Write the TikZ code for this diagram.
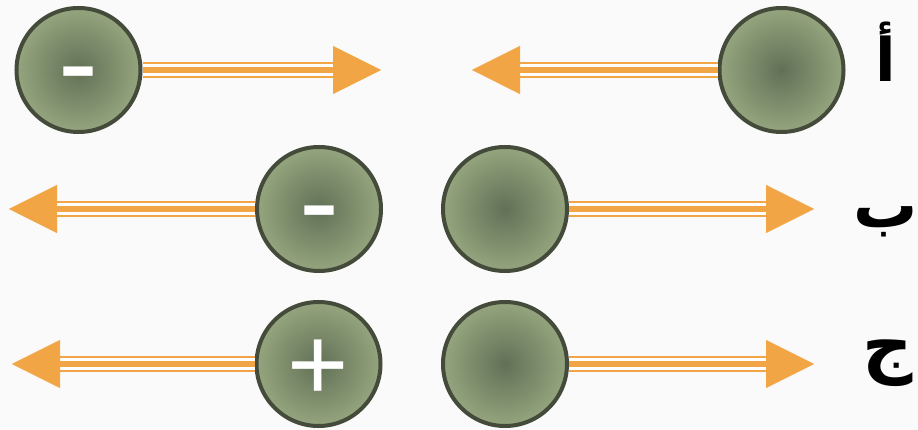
\documentclass[tikz,border=0pt]{standalone}
\usepackage{fontspec}
\setmainfont{Liberation Sans}
\newfontfamily\arabicfont[Script=Arabic]{DejaVu Sans}
\TeXXeTstate=1
\usetikzlibrary{arrows.meta}
\usepackage{xcolor}
\definecolor{bgc}{RGB}{250,250,250}
\definecolor{ballin}{RGB}{98,112,86}
\definecolor{ballout}{RGB}{148,165,126}
\definecolor{ballrim}{RGB}{68,75,58}
\definecolor{rodc}{RGB}{242,165,69}

\tikzset{
  ball/.style={circle, draw=ballrim, line width=4pt, minimum size=124pt, inner sep=0pt,
    inner color=ballin, outer color=ballout, text=white},
  minus/.style={font=\fontsize{120}{120}\selectfont, text height=67pt, text depth=0pt},
  plus/.style={font=\fontsize{105}{105}\selectfont, text height=73.6pt, text depth=0pt},
  rod/.style={draw=rodc, line width=5.3pt,
    preaction={draw=rodc, line width=2.3pt, double=white, double distance=12pt}},
  head/.style={draw=rodc, line width=0.1pt, -{Triangle[length=48pt,width=48pt]}},
  letter/.style={font={\arabicfont\bfseries\fontsize{60}{72}\selectfont}}
}

\begin{document}
\begin{tikzpicture}[x=1pt,y=-1pt]
\fill[bgc] (0,0) rectangle (918,430);
\useasboundingbox (0,0) rectangle (918,430);

% row a
\node[ball, minus] (a1) at (78.5,70) {-};
\node[ball] (a2) at (781.5,70) {};
\coordinate (a1h) at (333,70);
\coordinate (a1t) at (381,70);
\coordinate (a2h) at (520,70);
\coordinate (a2t) at (472,70);
\draw[rod] (a1.east) -- (a1h);
\draw[head] (a1h) -- (a1t);
\draw[rod] (a2.west) -- (a2h);
\draw[head] (a2h) -- (a2t);

% row b
\node[ball, minus] (b1) at (319,209) {-};
\node[ball] (b2) at (505,209) {};
\coordinate (b1h) at (57,209);
\coordinate (b1t) at (9,209);
\coordinate (b2h) at (767,209);
\coordinate (b2t) at (814,209);
\draw[rod] (b1.west) -- (b1h);
\draw[head] (b1h) -- (b1t);
\draw[rod] (b2.east) -- (b2h);
\draw[head] (b2h) -- (b2t);

% row c
\node[ball, plus] (c1) at (318.5,364) {+};
\node[ball] (c2) at (505,364) {};
\coordinate (c1h) at (59,364);
\coordinate (c1t) at (12,364);
\coordinate (c2h) at (767,364);
\coordinate (c2t) at (814,364);
\draw[rod] (c1.west) -- (c1h);
\draw[head] (c1h) -- (c1t);
\draw[rod] (c2.east) -- (c2h);
\draw[head] (c2h) -- (c2t);

% letters
\node[letter] (la) at (886,52) {\beginR أ\endR};
\node[letter, font={\arabicfont\bfseries\fontsize{64}{76}\selectfont}] (lb) at (886,222) {\beginR ب\endR};
\node[letter, font={\arabicfont\bfseries\fontsize{70}{84}\selectfont}] (lc) at (888,363) {\beginR ج\endR};
\end{tikzpicture}
\end{document}
